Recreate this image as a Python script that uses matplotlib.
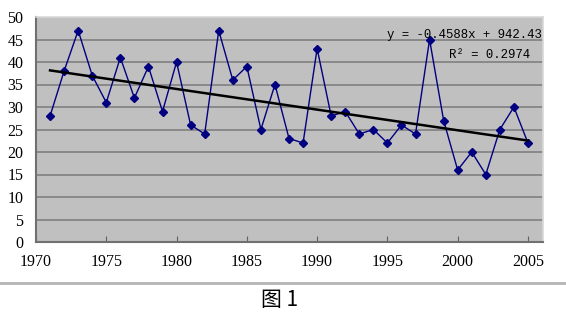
import numpy as np
from matplotlib import pyplot as plt
from matplotlib.lines import Line2D

plt.rcParams['font.family'] = ['Liberation Serif']

# yearly values
years = np.arange(1971, 2006)
values = [28, 38, 47, 37, 31, 41, 32, 39, 29, 40,
          26, 24, 47, 36, 39, 25, 35, 23, 22, 43,
          28, 29, 24, 25, 22, 26, 24, 45, 27, 16,
          20, 15, 25, 30, 22]
slope, intercept = -0.4588, 942.43
r2 = 0.2974
xticks = [1970, 1975, 1980, 1985, 1990, 1995, 2000, 2005]
yticks = [0, 5, 10, 15, 20, 25, 30, 35, 40, 45, 50]

fig = plt.figure(figsize=(5.66, 3.17), dpi=100)
ax = fig.add_axes([36/566, 75/317, 507/566, 225/317])
ax.set_facecolor('#c0c0c0')

for yv in yticks[1:-1]:
    ax.axhline(yv, color='#7a7a7a', lw=1.1, zorder=1)

ax.plot(years, values, color='#000080', lw=1.0, marker='D', ms=4,
        mfc='#000080', mec='#000080', zorder=3)

# linear trend
tx = np.array([years[0], years[-1]])
ax.plot(tx, slope*tx + intercept, color='black', lw=1.8, zorder=4)

ax.set_xlim(1970, 2006.07)
ax.set_ylim(0, 50)
ax.set_xticks(xticks)
ax.set_yticks(yticks)
ax.tick_params(axis='x', direction='in', length=4, color='#606060', pad=9,
               labelsize=11.5)
ax.tick_params(axis='y', length=0, pad=9, labelsize=11.5)
for s in ['left', 'bottom']:
    ax.spines[s].set_color('#707070')
    ax.spines[s].set_linewidth(1.5)
for s in ['top', 'right']:
    ax.spines[s].set_color('#d8d8d8')
    ax.spines[s].set_linewidth(1.2)

ax.text(2006.0, 46.0, 'y = -0.4588x + 942.43', family='Liberation Mono',
        fontsize=8.9, va='center', ha='right', zorder=5)
ax.text(2002.3, 41.5, 'R² = 0.2974', family='Liberation Mono',
        fontsize=8.9, va='center', ha='center', zorder=5)

fig.add_artist(Line2D([0, 1], [1 - 283/317]*2, color='#b4b4b4', lw=2))
fig.text(280/566, 1 - 300/317, '图 1', ha='center', va='center',
         family=['Noto Sans CJK SC', 'DejaVu Sans'], fontsize=15)

fig.savefig('out.png', dpi=100)
